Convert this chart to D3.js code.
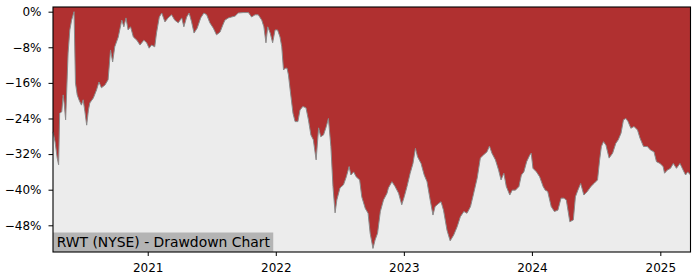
<!DOCTYPE html>
<html>
<head>
<meta charset="utf-8">
<script src="https://cdn.jsdelivr.net/npm/d3@7"></script>
<style>
  body { margin: 0; background: #ffffff; }
  text { font-family: "DejaVu Sans", sans-serif; }
</style>
</head>
<body>
<script>
// Drawdown values (%), one per date
var dates = [
  "2020-04-06", "2020-04-12", "2020-04-18", "2020-04-22", "2020-04-25", "2020-05-01", "2020-05-05", "2020-05-08",
  "2020-05-12", "2020-05-19", "2020-05-24", "2020-05-29", "2020-06-05", "2020-06-09", "2020-06-14", "2020-06-19",
  "2020-06-26", "2020-07-01", "2020-07-06", "2020-07-11", "2020-07-16", "2020-07-20", "2020-07-30", "2020-08-08",
  "2020-08-15", "2020-08-22", "2020-09-01", "2020-09-10", "2020-09-17", "2020-09-23", "2020-09-29", "2020-10-09",
  "2020-10-19", "2020-10-25", "2020-10-31", "2020-11-06", "2020-11-13", "2020-11-21", "2020-12-01", "2020-12-10",
  "2020-12-21", "2020-12-29",
  "2021-01-05", "2021-01-12", "2021-01-21", "2021-01-26", "2021-02-03", "2021-02-10", "2021-02-19", "2021-02-28",
  "2021-03-10", "2021-03-19", "2021-03-29", "2021-04-08", "2021-04-14", "2021-04-22", "2021-04-29", "2021-05-06",
  "2021-05-13", "2021-05-22", "2021-06-01", "2021-06-10", "2021-06-18", "2021-06-27", "2021-07-07", "2021-07-16",
  "2021-07-26", "2021-08-03", "2021-08-09", "2021-08-19", "2021-08-28", "2021-09-07", "2021-09-16", "2021-09-30",
  "2021-10-15", "2021-10-24", "2021-11-03", "2021-11-12", "2021-11-22", "2021-11-28", "2021-12-04", "2021-12-09",
  "2021-12-16", "2021-12-23", "2021-12-30",
  "2022-01-06", "2022-01-13", "2022-01-18", "2022-01-23", "2022-01-28", "2022-02-02", "2022-02-06", "2022-02-11",
  "2022-02-19", "2022-02-25", "2022-03-05", "2022-03-11", "2022-03-19", "2022-03-28", "2022-04-04", "2022-04-11",
  "2022-04-18", "2022-04-26", "2022-05-03", "2022-05-09", "2022-05-17", "2022-05-25", "2022-05-31", "2022-06-07",
  "2022-06-13", "2022-06-19", "2022-06-24", "2022-07-03", "2022-07-13", "2022-07-21", "2022-07-29", "2022-08-03",
  "2022-08-11", "2022-08-18", "2022-08-28", "2022-09-03", "2022-09-13", "2022-09-21", "2022-09-27", "2022-10-05",
  "2022-10-11", "2022-10-18", "2022-10-26", "2022-11-04", "2022-11-14", "2022-11-18", "2022-11-28", "2022-12-07",
  "2022-12-17", "2022-12-26",
  "2023-01-02", "2023-01-10", "2023-01-19", "2023-01-27", "2023-02-03", "2023-02-09", "2023-02-19", "2023-02-28",
  "2023-03-08", "2023-03-17", "2023-03-25", "2023-03-31", "2023-04-10", "2023-04-17", "2023-04-24", "2023-05-04",
  "2023-05-13", "2023-05-23", "2023-06-02", "2023-06-11", "2023-06-21", "2023-06-30", "2023-07-10", "2023-07-19",
  "2023-07-29", "2023-08-07", "2023-08-16", "2023-08-26", "2023-09-02", "2023-09-09", "2023-09-19", "2023-09-28",
  "2023-10-05", "2023-10-13", "2023-10-20", "2023-10-30", "2023-11-06", "2023-11-15", "2023-11-25", "2023-12-02",
  "2023-12-09", "2023-12-17", "2023-12-26", "2023-12-30",
  "2024-01-04", "2024-01-14", "2024-01-23", "2024-02-02", "2024-02-08", "2024-02-15", "2024-02-25", "2024-03-05",
  "2024-03-15", "2024-03-24", "2024-04-01", "2024-04-08", "2024-04-18", "2024-04-28", "2024-05-04", "2024-05-11",
  "2024-05-19", "2024-05-28", "2024-06-07", "2024-06-17", "2024-06-26", "2024-07-06", "2024-07-12", "2024-07-17",
  "2024-07-23", "2024-07-30", "2024-08-08", "2024-08-18", "2024-08-27", "2024-09-03", "2024-09-11", "2024-09-18",
  "2024-09-25", "2024-10-01", "2024-10-09", "2024-10-18", "2024-10-28", "2024-11-04", "2024-11-14", "2024-11-25",
  "2024-12-04", "2024-12-14", "2024-12-21", "2024-12-31",
  "2025-01-09", "2025-01-13", "2025-01-21", "2025-01-30", "2025-02-07", "2025-02-16", "2025-02-26", "2025-03-07",
  "2025-03-14", "2025-03-20", "2025-03-28"
];

var drawdown = [
  -27.0, -29.3, -32.9, -34.4, -22.8, -22.5, -18.7, -20.7,
  -24.3, -9.3, -4.1, -1.9, 0, -16.0, -18.7, -19.8,
  -21.0, -19.8, -22.5, -25.5, -22.1, -20.5, -19.4, -17.6,
  -15.8, -17.1, -16.5, -15.3, -8.6, -11.3, -7.9, -5.7,
  -1.9, -3.4, -1.4, -4.1, -3.4, -5.7, -6.4, -7.5,
  -6.4, -7.0,
  -8.2, -7.5, -7.9, -4.8, -1.2, -0.3, -2.3, -1.4,
  -0.7, -1.9, -2.5, -1.4, -3.4, -1.2, -0.3, -2.3,
  -4.8, -3.7, -1.4, -0.3, -0.7, -2.5, -3.7, -5.2,
  -4.6, -3.0, -1.9, -1.4, -1.2, -1.0, -0.3, -0.2,
  -0.2, -1.2, -0.7, -0.7, -1.9, -3.4, -7.0, -3.4,
  -4.8, -7.0, -4.1,
  -4.1, -5.7, -7.9, -13.1, -12.7, -12.7, -14.2, -17.6,
  -22.8, -24.7, -24.7, -22.1, -21.3, -21.6, -24.3, -27.7,
  -28.8, -33.3, -26.1, -28.1, -27.7, -25.8, -24.0, -30.3,
  -39.3, -45.2, -42.3, -39.6, -38.9, -37.1, -34.8, -36.7,
  -36.0, -37.1, -37.8, -41.6, -44.2, -45.3, -49.8, -53.2,
  -51.3, -49.8, -44.9, -42.3, -40.8, -39.6, -38.2, -39.3,
  -40.8, -43.4,
  -41.6, -39.3, -36.3, -34.1, -30.7, -32.6, -34.1, -36.7,
  -38.2, -42.3, -45.7, -43.8, -43.1, -42.7, -44.6, -49.1,
  -51.5, -50.2, -48.3, -46.1, -44.9, -45.3, -43.8, -40.8,
  -37.4, -32.9, -32.2, -31.5, -30.2, -31.8, -33.3, -35.6,
  -37.8, -36.3, -39.3, -41.2, -40.1, -40.1, -39.3, -36.7,
  -36.0, -33.7, -32.2, -31.8,
  -35.2, -36.0, -37.1, -39.3, -40.1, -40.4, -43.8, -44.9,
  -44.6, -41.9, -41.9, -42.3, -47.2, -46.8, -41.6, -40.1,
  -38.6, -41.2, -40.4, -39.3, -38.6, -37.8, -33.3, -30.3,
  -29.2, -30.0, -32.9, -31.8, -29.6, -28.8, -27.3, -24.3,
  -24.0, -24.7, -26.2, -25.8, -26.6, -28.4, -30.3, -30.3,
  -31.1, -31.5, -33.7, -34.1,
  -34.8, -36.3, -35.6, -35.2, -34.1, -35.2, -34.1, -35.6,
  -36.7, -36.0, -36.7
];

var yTicks = [0, -8, -16, -24, -32, -40, -48];
var xTicks = ["2021-01-01", "2022-01-01", "2023-01-01", "2024-01-01", "2025-01-01"];
var titleText = "RWT (NYSE) - Drawdown Chart";

var svgWidth = 700;
var svgHeight = 280;

var margin = {
  top: 7,
  right: 9.5,
  bottom: 28,
  left: 53
};

var width = svgWidth - margin.left - margin.right;
var height = svgHeight - margin.top - margin.bottom;

var parseTime = d3.timeParse("%Y-%m-%d");

var series = dates.map(function(d, i) {
  return { date: parseTime(d), value: drawdown[i] };
});

var svg = d3.select("body")
  .append("svg")
  .attr("width", svgWidth)
  .attr("height", svgHeight);

var chartGroup = svg.append("g")
  .attr("transform", `translate(${margin.left}, ${margin.top})`);

var xTimeScale = d3.scaleTime()
  .range([0, width])
  .domain(d3.extent(series, d => d.date));

var yLinearScale = d3.scaleLinear()
  .range([height, 0])
  .domain([-54, 1.05]);

// plot background
chartGroup.append("rect")
  .attr("width", width)
  .attr("height", height)
  .attr("fill", "#ececec");

// red area between the top of the plot and the drawdown curve
var drawArea = d3.area()
  .x(d => xTimeScale(d.date))
  .y0(0)
  .y1(d => yLinearScale(d.value));

chartGroup.append("path")
  .attr("d", drawArea(series))
  .attr("fill", "#b03030");

var drawLine = d3.line()
  .x(d => xTimeScale(d.date))
  .y(d => yLinearScale(d.value));

chartGroup.append("path")
  .attr("d", drawLine(series))
  .attr("fill", "none")
  .attr("stroke", "#8a8a8a")
  .attr("stroke-width", 1);

// label box in the lower left corner
var label = chartGroup.append("g");
var labelBg = label.append("rect")
  .attr("fill", "#b4b4b4");
var labelText = label.append("text")
  .attr("x", 3.7)
  .attr("y", height - 5.5)
  .attr("font-size", "13.9px")
  .attr("fill", "#000")
  .text(titleText);
var labelWidth = labelText.node().getComputedTextLength();
labelBg
  .attr("x", 0)
  .attr("y", height - 19.5)
  .attr("width", labelWidth + 7)
  .attr("height", 19.5);

// axes
var leftAxis = d3.axisLeft(yLinearScale)
  .tickValues(yTicks)
  .tickSize(4.5)
  .tickPadding(7)
  .tickFormat(d => d3.format("d")(d) + "%");

var bottomAxis = d3.axisBottom(xTimeScale)
  .tickValues(xTicks.map(parseTime))
  .tickSize(4)
  .tickPadding(7.3)
  .tickFormat(d3.timeFormat("%Y"));

var yAxisG = chartGroup.append("g")
  .call(leftAxis);

var xAxisG = chartGroup.append("g")
  .attr("transform", "translate(0, " + height + ")")
  .call(bottomAxis);

[yAxisG, xAxisG].forEach(function(g) {
  g.select(".domain").remove();
  g.selectAll(".tick line").attr("stroke", "#000").attr("stroke-width", 1);
  g.selectAll(".tick text")
    .attr("fill", "#000")
    .style("font-family", "'DejaVu Sans', sans-serif")
    .style("font-size", "12px");
});

// frame
chartGroup.append("rect")
  .attr("width", width)
  .attr("height", height)
  .attr("fill", "none")
  .attr("stroke", "#000")
  .attr("stroke-width", 1.1);
</script>
</body>
</html>
